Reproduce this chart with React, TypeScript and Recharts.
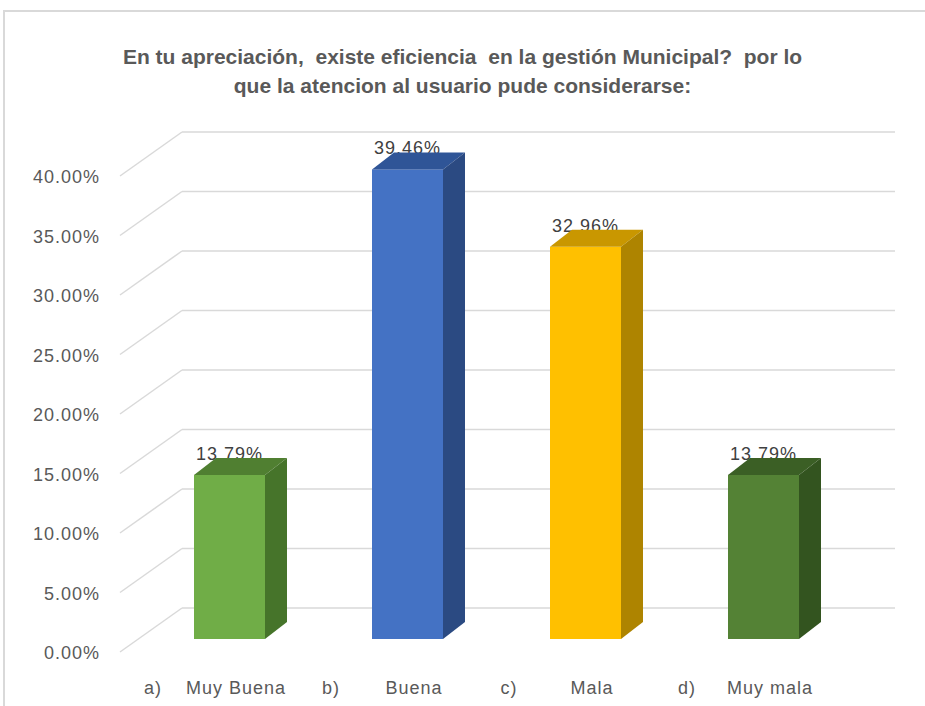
import React from "react";
import { BarChart, Bar, XAxis, YAxis, CartesianGrid } from "recharts";

const categories = ["Muy Buena", "Buena", "Mala", "Muy mala"];
const prefixes = ["a)", "b)", "c)", "d)"];
const values = [13.79, 39.46, 32.96, 13.79];
const yTicks = [0, 5, 10, 15, 20, 25, 30, 35, 40];
const frontColors = ["#70AD47", "#4472C4", "#FFC000", "#548235"];
const topColors = ["#507F31", "#2F5597", "#C99700", "#3B5F25"];
const sideColors = ["#46742A", "#2B4A82", "#AE8400", "#33541F"];
const titleLines = [
  "En tu apreciación,  existe eficiencia  en la gestión Municipal?  por lo",
  "que la atencion al usuario pude considerarse:",
];

const data = categories.map((c, i) => ({ name: c, prefix: prefixes[i], value: values[i] }));

const DX = 22;
const DY = 17;
const FONT = "'Liberation Sans', Arial, sans-serif";

const BarShape = (props: any) => {
  const { x, y, width, height, index, value } = props;
  const v = Array.isArray(value) ? value[1] : value;
  const front = frontColors[index];
  const top = topColors[index];
  const side = sideColors[index];
  return (
    <g>
      <text
        x={x + width / 2}
        y={y - DY + 2}
        textAnchor="middle"
        fontSize={18}
        letterSpacing={1}
        fontFamily={FONT}
        fill="#404040"
      >
        {Number(v).toFixed(2)}%
      </text>
      <rect x={x} y={y} width={width} height={height} fill={front} />
      <polygon
        points={`${x},${y} ${x + DX},${y - DY} ${x + width + DX},${y - DY} ${x + width},${y}`}
        fill={top}
      />
      <polygon
        points={`${x + width},${y} ${x + width + DX},${y - DY} ${x + width + DX},${y + height - DY} ${x + width},${y + height}`}
        fill={side}
      />
    </g>
  );
};

const gridLine = (props: any) => {
  const { x1, x2, y1, key } = props;
  const fx = x1 - 20;
  const fy = y1 + 13;
  const bx = x1 + 42;
  const by = y1 - 31;
  return (
    <g key={key}>
      <line x1={fx} y1={fy} x2={bx} y2={by} stroke="#D9D9D9" strokeWidth={1.5} />
      <line x1={bx} y1={by} x2={x2 + 43} y2={by} stroke="#D9D9D9" strokeWidth={1.5} />
    </g>
  );
};

const YTick = (props: any) => {
  const { y, payload } = props;
  return (
    <text
      x={100}
      y={y + 20}
      textAnchor="end"
      fontSize={18}
      letterSpacing={1}
      fontFamily={FONT}
      fill="#595959"
    >
      {Number(payload.value).toFixed(2)}%
    </text>
  );
};

const XTick = (props: any) => {
  const { x, y, payload, index } = props;
  return (
    <g>
      <text
        x={x - 76}
        y={y + 47}
        textAnchor="middle"
        fontSize={18}
        letterSpacing={1}
        fontFamily={FONT}
        fill="#595959"
      >
        {prefixes[index]}
      </text>
      <text
        x={x + 7}
        y={y + 47}
        textAnchor="middle"
        fontSize={18}
        letterSpacing={1}
        fontFamily={FONT}
        fill="#595959"
      >
        {payload.value}
      </text>
    </g>
  );
};

export default function App() {
  return (
    <div
      style={{
        position: "absolute",
        left: 0,
        top: 0,
        width: 925,
        height: 706,
        background: "#fff",
        overflow: "hidden",
      }}
    >
      <div
        style={{
          position: "absolute",
          left: 3,
          top: 10,
          width: 940,
          height: 720,
          borderLeft: "2px solid #D9D9D9",
          borderTop: "2px solid #D9D9D9",
        }}
      />
      <div
        style={{
          position: "absolute",
          left: 0,
          top: 42,
          width: 925,
          textAlign: "center",
          fontFamily: FONT,
          fontWeight: "bold",
          fontSize: 21,
          lineHeight: "29px",
          color: "#595959",
          whiteSpace: "pre",
        }}
      >
        {titleLines.map((l, i) => (
          <div key={i}>{l}</div>
        ))}
      </div>
      <div style={{ position: "absolute", left: 0, top: 0 }}>
        <BarChart
          width={925}
          height={706}
          data={data}
          margin={{ top: 163, right: 73, bottom: 0, left: 0 }}
          barSize={71}
        >
          <CartesianGrid vertical={false} horizontal={gridLine} />
          <YAxis
            type="number"
            domain={[0, 40]}
            ticks={yTicks}
            width={140}
            axisLine={false}
            tickLine={false}
            tick={YTick}
            interval={0}
          />
          <XAxis
            dataKey="name"
            height={67}
            axisLine={false}
            tickLine={false}
            tick={XTick}
            interval={0}
          />
          <Bar dataKey="value" isAnimationActive={false} shape={BarShape} />
        </BarChart>
      </div>
    </div>
  );
}
